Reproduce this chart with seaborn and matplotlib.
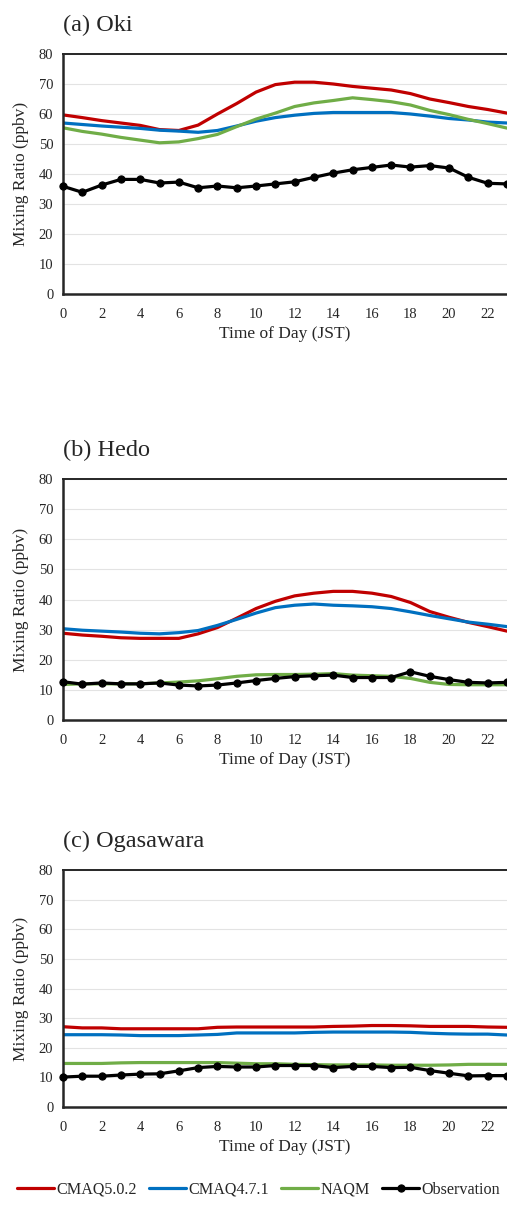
import numpy as np
import pandas as pd
import matplotlib
matplotlib.use("Agg")
import matplotlib.pyplot as plt
import seaborn as sns

hours = list(range(24))
series_names = ["CMAQ5.0.2", "CMAQ4.7.1", "NAQM", "Observation"]
series_colors = ["#C00000", "#0070C0", "#70AD47", "#000000"]

# (a) Oki
oki_cmaq502 = [59.7, 58.8, 57.8, 57.0, 56.2, 54.8, 54.5, 56.3, 60.0, 63.5, 67.3, 69.8,
               70.6, 70.6, 70.0, 69.2, 68.6, 68.0, 66.8, 65.0, 63.8, 62.5, 61.5, 60.3]
oki_cmaq471 = [57.0, 56.5, 56.0, 55.6, 55.2, 54.6, 54.3, 53.9, 54.5, 56.0, 57.6, 58.8,
               59.6, 60.2, 60.5, 60.5, 60.5, 60.5, 60.0, 59.3, 58.5, 58.0, 57.3, 57.0]
oki_naqm = [55.4, 54.2, 53.3, 52.2, 51.3, 50.4, 50.7, 51.8, 53.2, 55.8, 58.3, 60.3,
            62.5, 63.7, 64.5, 65.4, 64.8, 64.1, 63.0, 61.2, 59.8, 58.2, 56.8, 55.3]
oki_obs = [35.9, 33.9, 36.3, 38.2, 38.2, 37.0, 37.3, 35.4, 36.0, 35.4, 36.0, 36.7,
           37.4, 38.9, 40.3, 41.4, 42.2, 43.0, 42.3, 42.8, 42.0, 38.9, 36.9, 36.7]

# (b) Hedo
hedo_cmaq502 = [28.8, 28.2, 27.8, 27.3, 27.1, 27.1, 27.1, 28.6, 30.7, 33.8, 37.0, 39.4,
                41.2, 42.1, 42.7, 42.7, 42.1, 41.0, 39.0, 36.0, 34.1, 32.4, 31.0, 29.5]
hedo_cmaq471 = [30.3, 29.8, 29.5, 29.2, 28.8, 28.6, 29.0, 29.7, 31.4, 33.4, 35.5, 37.3,
                38.1, 38.5, 38.1, 37.9, 37.6, 37.0, 35.9, 34.7, 33.6, 32.5, 31.8, 31.0]
hedo_naqm = [11.8, 12.0, 12.0, 12.0, 12.0, 12.3, 12.6, 13.0, 13.7, 14.5, 15.0, 15.1,
             15.1, 15.2, 15.4, 14.9, 14.7, 14.5, 13.8, 12.5, 11.8, 11.7, 11.7, 11.7]
hedo_obs = [12.7, 11.9, 12.3, 12.0, 12.0, 12.3, 11.6, 11.3, 11.6, 12.3, 13.1, 13.8,
            14.4, 14.7, 14.9, 14.1, 14.1, 14.1, 16.0, 14.5, 13.4, 12.5, 12.3, 12.5]

# (c) Ogasawara
oga_cmaq502 = [27.1, 26.7, 26.7, 26.4, 26.4, 26.4, 26.4, 26.4, 26.9, 27.0, 27.0, 27.0,
               27.0, 27.0, 27.2, 27.3, 27.5, 27.5, 27.4, 27.2, 27.2, 27.2, 27.0, 26.9]
oga_cmaq471 = [24.4, 24.4, 24.4, 24.3, 24.1, 24.1, 24.1, 24.3, 24.5, 25.0, 25.0, 25.0,
               25.0, 25.2, 25.3, 25.3, 25.3, 25.3, 25.2, 24.9, 24.7, 24.6, 24.6, 24.3]
oga_naqm = [14.7, 14.7, 14.7, 14.9, 15.0, 15.0, 15.0, 15.0, 15.0, 14.8, 14.6, 14.6,
            14.4, 14.3, 14.2, 14.2, 14.2, 14.1, 14.1, 14.1, 14.2, 14.4, 14.4, 14.4]
oga_obs = [10.1, 10.4, 10.4, 10.8, 11.1, 11.2, 12.2, 13.3, 13.7, 13.5, 13.5, 14.0,
           14.0, 14.0, 13.3, 13.7, 13.7, 13.3, 13.4, 12.3, 11.4, 10.5, 10.6, 10.6]

panel_titles = ["(a) Oki", "(b) Hedo", "(c) Ogasawara"]
panel_data = [
    [oki_cmaq502, oki_cmaq471, oki_naqm, oki_obs],
    [hedo_cmaq502, hedo_cmaq471, hedo_naqm, hedo_obs],
    [oga_cmaq502, oga_cmaq471, oga_naqm, oga_obs],
]
y_ticks = [0, 10, 20, 30, 40, 50, 60, 70, 80]

sns.set_theme(style="white")
plt.rcParams["font.family"] = ["Liberation Serif", "DejaVu Serif"]
plt.rcParams["text.color"] = "#262626"

W, H = 507, 1208
fig = plt.figure(figsize=(W / 100, H / 100), dpi=100)

# axes boxes in pixels: (top, bottom)
boxes = [(54, 294), (479, 720), (870, 1107)]
left_px = 63

for (top, bot), title, values in zip(boxes, panel_titles, panel_data):
    ax = fig.add_axes([left_px / W, 1 - bot / H, (W - left_px) / W, (bot - top) / H])
    frame = pd.DataFrame({"hour": hours})
    for name, color, vals in zip(series_names, series_colors, values):
        frame[name] = vals
        is_obs = name == "Observation"
        sns.lineplot(data=frame, x="hour", y=name, ax=ax, color=color,
                     linewidth=2.3, label=name,
                     marker="o" if is_obs else None,
                     markersize=5.2 if is_obs else 0,
                     markeredgecolor=color, zorder=3 if is_obs else 2,
                     clip_on=False if is_obs else True)
    ax.set_xlim(0, 23)
    ax.set_ylim(0, 80)
    ax.set_xticks(hours)
    ax.set_xticklabels([str(h) if h % 2 == 0 else "" for h in hours])
    ax.set_yticks(y_ticks)
    ax.tick_params(axis="both", direction="out", length=4, width=1.2,
                   colors="#262626", labelsize=10.5, pad=3)
    ax.tick_params(axis="x", pad=6)
    ax.yaxis.grid(True, color="#E3E3E3", linewidth=0.8)
    ax.xaxis.grid(False)
    ax.set_axisbelow(True)
    for side in ["left", "bottom"]:
        ax.spines[side].set_color("#262626")
        ax.spines[side].set_linewidth(1.8)
    ax.spines["top"].set_color("#262626")
    ax.spines["top"].set_linewidth(1.4)
    ax.spines["right"].set_visible(False)
    ax.set_xlabel("Time of Day (JST)", fontsize=12.5, labelpad=4)
    ax.set_ylabel("Mixing Ratio (ppbv)", fontsize=12.5, labelpad=7)
    ax.text(0.0, 1 + 29 / (bot - top), title, transform=ax.transAxes,
            fontsize=17.5, ha="left", va="center")
    handles, labels = ax.get_legend_handles_labels()
    ax.get_legend().remove()

fig.legend(handles, labels, loc="center", bbox_to_anchor=(0.51, 1 - 1190 / H),
           ncol=4, frameon=False, fontsize=11.6, handlelength=2.3,
           handletextpad=0.15, columnspacing=0.75)

fig.savefig("out.png", dpi=100, facecolor="white")
